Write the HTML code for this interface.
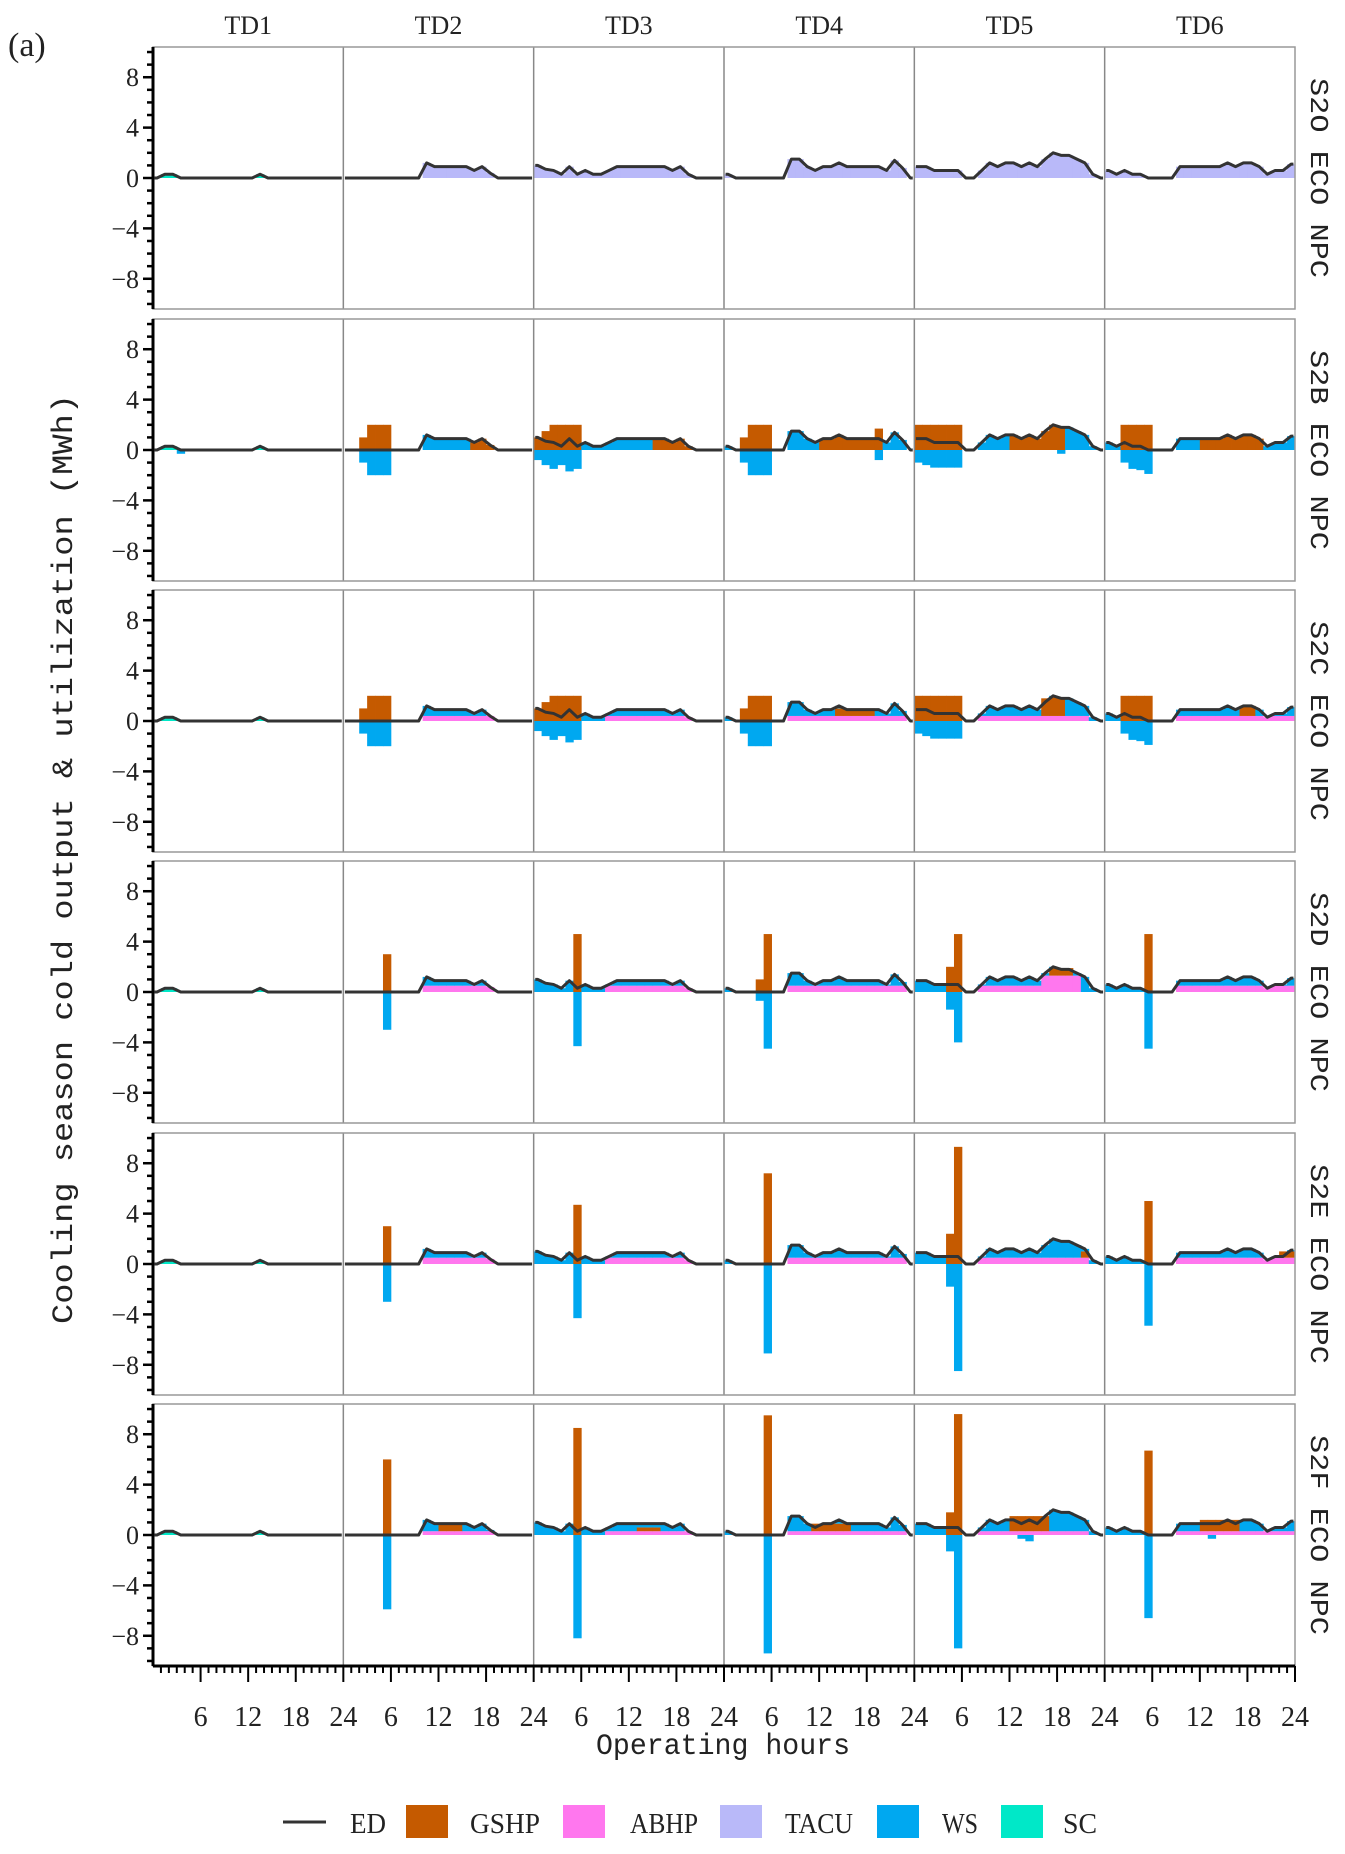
<!DOCTYPE html>
<html><head><meta charset="utf-8"><style>
html,body{margin:0;padding:0;background:#fff}
svg{display:block}
text{font-family:"Liberation Serif",serif;fill:#222}
.mono{font-family:"Liberation Mono",monospace}
</style></head><body>
<svg id="chart" width="1345" height="1854" viewBox="0 0 1345 1854" xmlns="http://www.w3.org/2000/svg">
<text x="8" y="56" font-size="34">(a)</text>
<g id="plots"></g>
<text class="mono" transform="translate(72,859) rotate(-90)" text-anchor="middle" font-size="30" textLength="930" lengthAdjust="spacingAndGlyphs">Cooling season cold output &amp; utilization (MWh)</text>
<text class="mono" x="723" y="1754" text-anchor="middle" font-size="30" textLength="254" lengthAdjust="spacingAndGlyphs">Operating hours</text>
<g>
<line x1="283" y1="1822" x2="326" y2="1822" stroke="#333" stroke-width="3"/>
<text x="350" y="1833" font-size="28" textLength="36" lengthAdjust="spacingAndGlyphs">ED</text>
<rect x="406" y="1805" width="42" height="33" fill="#c55a00"/>
<text x="470" y="1833" font-size="28" textLength="70" lengthAdjust="spacingAndGlyphs">GSHP</text>
<rect x="563" y="1805" width="42" height="33" fill="#ff77ee"/>
<text x="630" y="1833" font-size="28" textLength="68" lengthAdjust="spacingAndGlyphs">ABHP</text>
<rect x="720" y="1805" width="42" height="33" fill="#b9b9f9"/>
<text x="785" y="1833" font-size="28" textLength="68" lengthAdjust="spacingAndGlyphs">TACU</text>
<rect x="877" y="1805" width="42" height="33" fill="#00a8f0"/>
<text x="942" y="1833" font-size="28" textLength="36" lengthAdjust="spacingAndGlyphs">WS</text>
<rect x="1001" y="1805" width="42" height="33" fill="#00e8c8"/>
<text x="1063" y="1833" font-size="28" textLength="34" lengthAdjust="spacingAndGlyphs">SC</text>
</g>
</svg>
<script>
const tdNames = ["TD1","TD2","TD3","TD4","TD5","TD6"];
const rowNames = ["S2O ECO NPC","S2B ECO NPC","S2C ECO NPC","S2D ECO NPC","S2E ECO NPC","S2F ECO NPC"];
const yTicks = [-8,-4,0,4,8];
const xTickLabels = [6,12,18,24];
// energy demand per TD (24 h)
const edTD1 = [0,0.3,0.3,0,0,0,0,0,0,0,0,0,0,0.3,0,0,0,0,0,0,0,0,0,0];
const edTD2 = [0,0,0,0,0,0,0,0,0,0,1.2,0.9,0.9,0.9,0.9,0.9,0.6,0.9,0.4,0,0,0,0,0];
const edTD3 = [1.0,0.7,0.6,0.3,0.9,0.3,0.6,0.3,0.3,0.6,0.9,0.9,0.9,0.9,0.9,0.9,0.9,0.6,0.9,0.3,0,0,0,0];
const edTD4 = [0.3,0,0,0,0,0,0,0,1.5,1.5,0.9,0.6,0.9,0.9,1.2,0.9,0.9,0.9,0.9,0.9,0.6,1.4,0.8,0];
const edTD5 = [0.9,0.9,0.6,0.6,0.6,0.6,0,0,0.6,1.2,0.9,1.2,1.2,0.9,1.2,0.9,1.5,2.0,1.8,1.8,1.5,1.2,0.3,0];
const edTD6 = [0.6,0.3,0.6,0.3,0.3,0,0,0,0,0.9,0.9,0.9,0.9,0.9,0.9,1.2,0.9,1.2,1.2,0.9,0.3,0.6,0.6,1.1];
const edData = [edTD1,edTD2,edTD3,edTD4,edTD5,edTD6];
// row supply mode: TACU covers demand (S2O) or WS residual
const rowTacu = [true,false,false,false,false,false];
// GSHP output (sparse hour:value) per row per TD
const gshpS2O = [{},{},{},{},{},{}];
const gshpS2B = [{3:0.3},{2:1,3:2,4:2,5:2,16:0.6,17:0.9,18:0.4},{0:1.0,1:1.5,2:2,3:2,4:2,5:2,15:0.9,16:0.9,17:0.6,18:0.9,19:0.3},{2:1,3:2,4:2,5:2,12:0.9,13:0.9,14:1.2,15:0.9,16:0.9,17:0.9,18:0.9,19:1.7},{0:2,1:2,2:2,3:2,4:2,5:2,12:1.2,13:0.9,14:1.2,15:0.9,16:1.5,17:2.0,18:1.8},{2:2,3:2,4:2,5:2,12:0.9,13:0.9,14:0.9,15:1.2,16:0.9,17:1.2,18:1.2,19:0.9}];
const gshpS2C = [{},{2:1,3:2,4:2,5:2},{0:1.0,1:1.5,2:2,3:2,4:2,5:2},{2:1,3:2,4:2,5:2,14:0.6,15:0.6,16:0.6,17:0.6,18:0.6},{0:2,1:2,2:2,3:2,4:2,5:2,16:1.4,17:1.5,18:1.5},{2:2,3:2,4:2,5:2,17:0.8,18:0.8}];
const gshpS2D = [{},{5:3.0},{5:4.6},{4:1.0,5:4.6},{4:2.0,5:4.6,17:0.6,18:0.6,19:0.6},{5:4.6}];
const gshpS2E = [{},{5:3.0},{5:4.7},{5:7.2},{4:2.4,5:9.3,21:0.5},{5:5.0,22:0.5,23:0.5}];
const gshpS2F = [{},{5:6.0,12:0.5,13:0.5,14:0.5},{5:8.5,13:0.3,14:0.3,15:0.3},{5:9.5,11:0.6,12:0.6,13:0.6,14:0.6,15:0.6},{4:1.8,5:9.6,12:1.2,13:1.2,14:1.2,15:1.2,16:1.2},{5:6.7,12:0.9,13:0.9,14:0.9,15:0.9,16:0.9}];
const gshpRows = [gshpS2O,gshpS2B,gshpS2C,gshpS2D,gshpS2E,gshpS2F];
// WS charging (negative, sparse)
const wsNegS2O = [{},{},{},{},{},{}];
const wsNegS2B = [{3:-0.3},{2:-1,3:-2,4:-2,5:-2},{0:-0.8,1:-1.2,2:-1.5,3:-1.2,4:-1.7,5:-1.5},{2:-1,3:-2,4:-2,5:-2,19:-0.8},{0:-1,1:-1.2,2:-1.4,3:-1.4,4:-1.4,5:-1.4,18:-0.3},{2:-1,3:-1.5,4:-1.6,5:-1.9}];
const wsNegS2C = [{},{2:-1,3:-2,4:-2,5:-2},{0:-0.8,1:-1.2,2:-1.5,3:-1.2,4:-1.7,5:-1.5},{2:-1,3:-2,4:-2,5:-2},{0:-1,1:-1.2,2:-1.4,3:-1.4,4:-1.4,5:-1.4},{2:-1,3:-1.5,4:-1.6,5:-1.9}];
const wsNegS2D = [{},{5:-3.0},{5:-4.3},{4:-0.7,5:-4.5},{4:-1.4,5:-4.0},{5:-4.5}];
const wsNegS2E = [{},{5:-3.0},{5:-4.3},{5:-7.1},{4:-1.8,5:-8.5},{5:-4.9}];
const wsNegS2F = [{},{5:-5.9},{5:-8.2},{5:-9.4},{4:-1.3,5:-9.0,13:-0.3,14:-0.5},{5:-6.6,13:-0.3}];
const wsNegRows = [wsNegS2O,wsNegS2B,wsNegS2C,wsNegS2D,wsNegS2E,wsNegS2F];
// ABHP ranges [startHour,endHour,value]
const abhpS2O = [[],[],[],[],[],[]];
const abhpS2B = [[],[],[],[],[],[]];
const abhpS2C = [[],[[10,18,0.4]],[[9,19,0.4]],[[8,22,0.4]],[[8,21,0.4]],[[9,23,0.4]]];
const abhpS2D = [[],[[10,18,0.5]],[[9,19,0.5]],[[8,22,0.5]],[[8,15,0.5],[16,20,1.3]],[[9,23,0.5]]];
const abhpS2E = [[],[[10,18,0.5]],[[9,19,0.5]],[[8,22,0.5]],[[8,21,0.5]],[[9,23,0.5]]];
const abhpS2F = [[],[[10,18,0.3]],[[9,19,0.3]],[[8,22,0.3]],[[8,21,0.3]],[[9,23,0.3]]];
const abhpRows = [abhpS2O,abhpS2B,abhpS2C,abhpS2D,abhpS2E,abhpS2F];

const COL = {GSHP:"#c55a00",ABHP:"#ff77ee",TACU:"#b9b9f9",WS:"#00a8f0",SC:"#00e8c8"};
const NS="http://www.w3.org/2000/svg";
const X0=153, X1=1295, colW=(X1-X0)/6;
const rowTop=[47,319,590,861,1133,1404], rowH=262, YMAX=10.4;
const g=document.getElementById('plots');
function mk(tag,attrs,parent){const e=document.createElementNS(NS,tag);for(const k in attrs)e.setAttribute(k,attrs[k]);(parent||g).appendChild(e);return e;}
function xScale(td,h){return X0+td*colW+h*colW/24;}
function yScale(r,v){return rowTop[r]+rowH/2-v*(rowH/2)/YMAX;}

tdNames.forEach((n,i)=>{
  const t=mk('text',{x:xScale(i,12),y:34,'text-anchor':'middle','font-size':26});
  t.textContent=n;
  
  
});

for(let r=0;r<6;r++){
  const pg=mk('g',{});
  
  
  for(let td=0;td<6;td++){
    const ed=edData[td], gs=gshpRows[r][td], wn=wsNegRows[r][td];
    const ab=new Array(24).fill(0);
    abhpRows[r][td].forEach(([a,b,v])=>{for(let h=a;h<=b;h++)ab[h]=Math.min(v,ed[h]||v);});
    for(let h=0;h<24;h++){
      const x=xScale(td,h), w=colW/24+0.4;
      let base=0;
      const stack=[];
      if(td===0){stack.push(['SC',ed[h]]);}
      else if(rowTacu[r]){stack.push(['TACU',ed[h]]);}
      else{
        const gv=gs[h]||0;
        stack.push(['ABHP',ab[h]]);
        stack.push(['GSHP',gv]);
        stack.push(['WS',Math.max(0,ed[h]-gv-ab[h])]);
        if(td===0&&gv>0){}
      }
      stack.forEach(([s,v])=>{
        if(v<=0)return;
        const rc=mk('rect',{x:x,y:yScale(r,base+v),width:w,height:yScale(r,base)-yScale(r,base+v),fill:COL[s]},pg);
        
        
        base+=v;
      });
      const nv=wn[h]||0;
      if(nv<0){
        const rc=mk('rect',{x:x,y:yScale(r,0),width:w,height:yScale(r,nv)-yScale(r,0),fill:COL.WS},pg);
        
        
      }
    }
    // ED line
    let pts=[[xScale(td,0.2),yScale(r,ed[0])]];
    for(let h=0;h<24;h++)pts.push([xScale(td,h+0.5),yScale(r,ed[h])]);
    pts.push([xScale(td,23.8),yScale(r,ed[23])]);
    const pl=mk('polyline',{points:pts.map(p=>p.join(',')).join(' '),fill:'none',stroke:'#333','stroke-width':3,'stroke-linejoin':'round'},pg);
    
    
    if(td>0){
      const dv=mk('line',{x1:xScale(td,0),y1:rowTop[r],x2:xScale(td,0),y2:rowTop[r]+rowH,stroke:'#888','stroke-width':1.5},pg);
      
      
    }
  }
  // frame
  const fr=mk('rect',{x:X0,y:rowTop[r],width:X1-X0,height:rowH,fill:'none',stroke:'#999','stroke-width':1.5},pg);
  
  
  // y axis
  const ya=mk('line',{x1:X0,y1:rowTop[r],x2:X0,y2:rowTop[r]+rowH,stroke:'#000','stroke-width':3},pg);
  
  
  for(let v=-10;v<=10;v++){
    const major=yTicks.includes(v);
    mk('line',{x1:X0-(major?10:6),y1:yScale(r,v),x2:X0,y2:yScale(r,v),stroke:'#000','stroke-width':2.5},pg);
  }
  yTicks.forEach(v=>{
    const t=mk('text',{x:X0-14,y:yScale(r,v)+9,'text-anchor':'end','font-size':26},pg);
    t.textContent=v<0?'\u2212'+(-v):String(v);
    
    
  });
  const sl=mk('text',{transform:`translate(1311,${rowTop[r]+rowH/2}) rotate(90)`,'text-anchor':'middle','font-size':26,textLength:200,lengthAdjust:'spacingAndGlyphs'},pg);
  sl.setAttribute('class','mono');
  sl.textContent=rowNames[r];
  
  
}
// x axis
const yB=rowTop[5]+rowH;
const xa=mk('line',{x1:X0,y1:yB,x2:X1,y2:yB,stroke:'#000','stroke-width':3});


for(let td=0;td<6;td++){
  for(let h=1;h<=24;h++){
    const major=h%6===0;
    mk('line',{x1:xScale(td,h),y1:yB,x2:xScale(td,h),y2:yB+(major?16:7),stroke:'#000','stroke-width':2});
  }
  xTickLabels.forEach(h=>{
    const t=mk('text',{x:xScale(td,h),y:1726,'text-anchor':'middle','font-size':28});
    t.textContent=String(h);
    
    
  });
}
</script>
</body></html>
